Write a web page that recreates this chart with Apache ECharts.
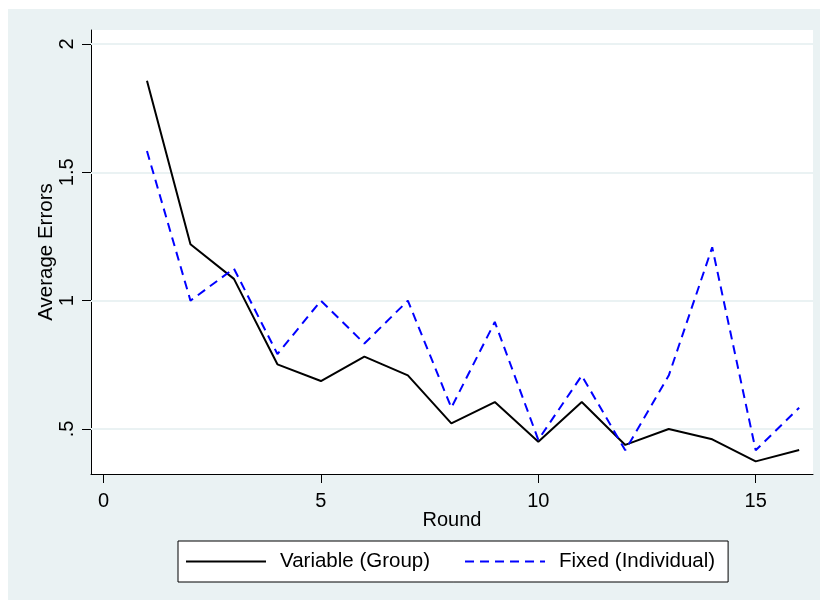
<!DOCTYPE html>
<html>
<head>
<meta charset="utf-8">
<script src="https://cdn.jsdelivr.net/npm/echarts@6/dist/echarts.min.js"></script>
<style>html,body{margin:0;padding:0;background:#fff;}#c{width:820px;height:604px;}</style>
</head>
<body>
<div id="c"></div>
<script>
var rounds = [1,2,3,4,5,6,7,8,9,10,11,12,13,14,15,16];
var variableGroup = [1.857,1.220,1.085,0.752,0.687,0.782,0.709,0.522,0.605,0.450,0.605,0.438,0.500,0.460,0.374,0.418];
var fixedIndividual = [1.583,1.000,1.125,0.792,1.000,0.833,1.000,0.583,0.917,0.458,0.708,0.417,0.708,1.208,0.417,0.583];
var xTicks = [0,5,10,15];
var yTicks = [0.5,1,1.5,2];
var yTickLabels = ['.5','1','1.5','2'];

function pairs(xs, ys){ return xs.map(function(x,i){ return [x, ys[i]]; }); }

var chart = echarts.init(document.getElementById('c'), null, {renderer:'canvas'});
var font = 'Liberation Sans, Arial, sans-serif';
chart.setOption({
  animation:false,
  backgroundColor:'#ffffff',
  graphic:[{type:'rect', z:-10, silent:true, shape:{x:8,y:9,width:812,height:591}, style:{fill:'#EAF2F3'}},
           {type:'rect', z:-9, silent:true, shape:{x:91,y:30,width:722,height:444}, style:{fill:'#ffffff'}}],
  grid:{left:91, right:7, top:30, bottom:130, show:false},
  xAxis:{
    type:'value', min:-0.2875, max:16.318,
    name:'Round', nameLocation:'middle', nameGap:36, nameMoveOverlap:false,
    nameTextStyle:{fontFamily:font, fontSize:20, color:'#000'},
    axisLine:{show:true, onZero:false, lineStyle:{color:'#000', width:1}},
    axisTick:{show:true, length:9, customValues:xTicks, lineStyle:{color:'#000'}},
    axisLabel:{customValues:xTicks, margin:17, fontFamily:font, fontSize:20, color:'#000'},
    splitLine:{show:false}
  },
  yAxis:{
    type:'value', min:0.3247, max:2.0545,
    name:'Average Errors', nameLocation:'middle', nameGap:34, nameRotate:90, nameMoveOverlap:false,
    nameTextStyle:{fontFamily:font, fontSize:20.5, color:'#000'},
    axisLine:{show:true, onZero:false, lineStyle:{color:'#000', width:1}},
    axisTick:{show:true, length:9, customValues:yTicks, lineStyle:{color:'#000'}},
    axisLabel:{customValues:yTicks, rotate:90, margin:14, fontFamily:font, fontSize:20, color:'#000',
      formatter:function(v){ var i = yTicks.indexOf(v); return i>=0 ? yTickLabels[i] : ''; }},
    splitLine:{show:false}
  },
  legend:{
    left:178, top:541, orient:'horizontal',
    backgroundColor:'#ffffff', borderColor:'#000', borderWidth:1,
    padding:[10,13,10,7], itemWidth:80, itemHeight:18, itemGap:34,
    itemStyle:{opacity:0},
    textStyle:{fontFamily:font, fontSize:20.5, color:'#000', padding:[0,0,0,9]},
    data:['Variable (Group)','Fixed (Individual)']
  },
  series:[
    {name:'Variable (Group)', type:'line', data:pairs(rounds, variableGroup), symbol:'none',
     lineStyle:{color:'#000', width:2}, itemStyle:{color:'#000'}, z:3,
     markLine:{silent:true, symbol:'none', label:{show:false}, animation:false,
       lineStyle:{color:'#EAF2F3', width:2, type:'solid'},
       data: yTicks.map(function(v){ return {yAxis:v}; }), z:1}},
    {name:'Fixed (Individual)', type:'line', data:pairs(rounds, fixedIndividual), symbol:'none',
     lineStyle:{color:'#0000FF', width:2, type:[9,6]}, itemStyle:{color:'#0000FF'}, z:4}
  ]
});
</script>
</body>
</html>
